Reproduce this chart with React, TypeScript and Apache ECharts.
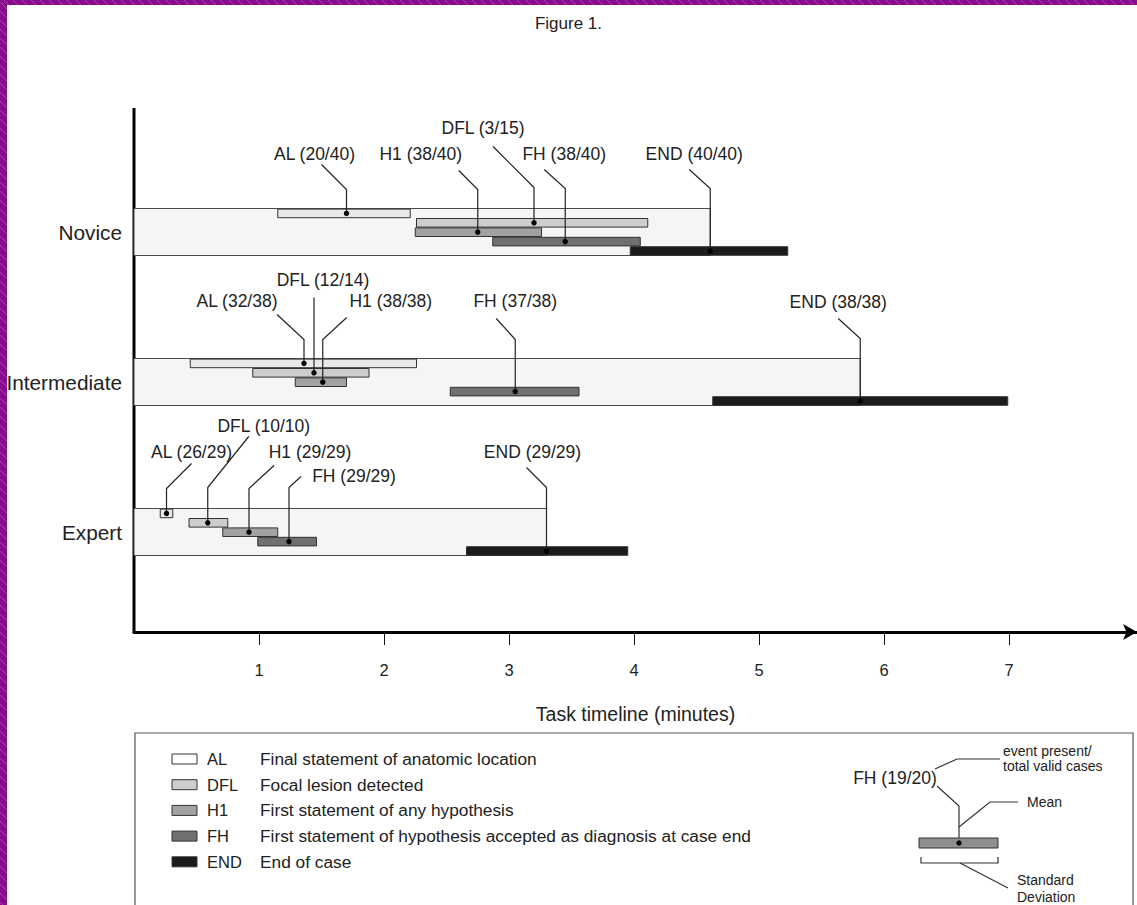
import React, { useEffect, useRef } from "react";
import * as echarts from "echarts";

const FONT = "'Liberation Sans', Arial, Helvetica, sans-serif";

// ---- data ----
const groups = ["Novice", "Intermediate", "Expert"];
const events = ["AL", "DFL", "H1", "FH", "END"];

const noviceLow = [1.15, 2.26, 2.25, 2.87, 3.97];
const noviceHigh = [2.21, 4.11, 3.26, 4.05, 5.23];
const noviceMean = [1.7, 3.2, 2.75, 3.45, 4.61];
const novicePresent = [20, 3, 38, 38, 40];
const noviceTotal = [40, 15, 40, 40, 40];

const intermediateLow = [0.45, 0.95, 1.29, 2.53, 4.63];
const intermediateHigh = [2.26, 1.88, 1.7, 3.56, 6.99];
const intermediateMean = [1.36, 1.44, 1.51, 3.05, 5.81];
const intermediatePresent = [32, 12, 38, 37, 38];
const intermediateTotal = [38, 14, 38, 38, 38];

const expertLow = [0.21, 0.44, 0.71, 0.99, 2.66];
const expertHigh = [0.31, 0.75, 1.15, 1.46, 3.95];
const expertMean = [0.26, 0.59, 0.92, 1.24, 3.3];
const expertPresent = [26, 10, 29, 29, 29];
const expertTotal = [29, 10, 29, 29, 29];

const tickValues = [1, 2, 3, 4, 5, 6, 7];

const legendCodes = ["AL", "DFL", "H1", "FH", "END"];
const legendTexts = [
  "Final statement of anatomic location",
  "Focal lesion detected",
  "First statement of any hypothesis",
  "First statement of hypothesis accepted as diagnosis at case end",
  "End of case",
];

// ---- styling / layout ----
const barColors = ["#e9e9e9", "#cdcdcd", "#a2a2a2", "#707070", "#1b1b1b"];
const legendColors = ["#ffffff", "#cdcdcd", "#a2a2a2", "#707070", "#1b1b1b"];
const BAND_FRAC = 47 / 150;
const PURPLE = "#8a0c8e";
const STRIPE = "#b350b6";

// label offsets (px) relative to mean x / band top:
// [labelDx, labelDy, diagStartDx, diagStartDy, elbowDy]
const leaderLayout = [
  [
    [-32, -55, -25, -44, -19],
    [-51, -81, -41, -62, -21],
    [-57, -55, -19, -38, -19],
    [-1, -55, -21, -39, -20],
    [-16, -55, -21, -39, -20],
  ],
  [
    [-67, -58, -27, -44, -19],
    [9, -79, 0, -61, -20],
    [68, -58, 24, -41, -19],
    [0, -58, -19, -40, -19],
    [-22, -57, -22, -40, -20],
  ],
  [
    [25, -57, 25, -45, -20],
    [56, -83, 41, -72, -21],
    [61, -57, 25, -43, -20],
    [65, -33, 12, -32, -21],
    [-14, -57, -20, -41, -21],
  ],
];

const groupData = [
  [noviceLow, noviceHigh, noviceMean, novicePresent, noviceTotal],
  [intermediateLow, intermediateHigh, intermediateMean, intermediatePresent, intermediateTotal],
  [expertLow, expertHigh, expertMean, expertPresent, expertTotal],
];

const bandData = groupData.map((g, gi) => [0, g[2][4], gi]);
const eventData: number[][] = [];
groupData.forEach((g, gi) => {
  events.forEach((_, ei) => {
    eventData.push([g[0][ei], g[1][ei], g[2][ei], gi, ei, g[3][ei], g[4][ei]]);
  });
});

function bandGeom(api: any, gi: number) {
  const c = api.coord([0, gi]);
  const catH = api.size([0, 1])[1];
  const bandH = catH * BAND_FRAC;
  return { top: c[1] - bandH / 2, h: bandH };
}

function borderStripes() {
  const out: any[] = [];
  const st = { stroke: STRIPE, lineWidth: 0.8 };
  // left strip (width 7), diagonal "\" lines
  for (let y = -7; y < 905; y += 9) {
    out.push({ type: "line", silent: true, shape: { x1: 0, y1: y, x2: 7, y2: y + 7 }, style: st });
  }
  // top strip (height 5)
  for (let x = -5; x < 1137; x += 9) {
    out.push({ type: "line", silent: true, shape: { x1: x, y1: 0, x2: x + 5, y2: 5 }, style: st });
  }
  return out;
}

export default function App() {
  const ref = useRef<HTMLDivElement>(null);
  useEffect(() => {
    if (!ref.current) return;
    const chart = echarts.init(ref.current, undefined, { renderer: "svg" });

    const legendRows = legendCodes
      .map((code, i) => {
        const y = 759 + i * 25.7;
        return [
          {
            type: "rect",
            shape: { x: 172, y: y - 5, width: 25, height: 10 },
            style: { fill: legendColors[i], stroke: "#333", lineWidth: 1 },
          },
          {
            type: "text",
            style: { text: code, x: 207, y, verticalAlign: "middle", fontSize: 16.5, fontFamily: FONT, fill: "#222" },
          },
          {
            type: "text",
            style: { text: legendTexts[i], x: 260, y, verticalAlign: "middle", fontSize: 17.3, fontFamily: FONT, fill: "#222" },
          },
        ];
      })
      .flat();

    const small = { fontSize: 14, fontFamily: FONT, fill: "#222", verticalAlign: "middle" };
    const ln = { stroke: "#333", lineWidth: 1.2, fill: "none" };

    const option: any = {
      animation: false,
      backgroundColor: "#ffffff",
      title: {
        text: "Figure 1.",
        left: "center",
        top: 10,
        textStyle: { fontSize: 17, fontWeight: "normal", color: "#222", fontFamily: FONT },
      },
      grid: { left: 134, right: 0, top: 157, height: 450 },
      xAxis: {
        type: "value",
        min: 0,
        max: 8.024,
        offset: 25,
        splitLine: { show: false },
        axisLine: {
          show: true,
          symbol: ["none", "arrow"],
          symbolSize: [12, 14],
          lineStyle: { color: "#000", width: 3 },
        },
        axisTick: { show: true, customValues: tickValues, length: 13, lineStyle: { color: "#111", width: 1 } },
        axisLabel: { customValues: tickValues, margin: 29, fontSize: 16.5, color: "#222", fontFamily: FONT },
        name: "Task timeline (minutes)",
        nameLocation: "middle",
        nameGap: 72,
        nameTextStyle: { fontSize: 19.5, color: "#222", fontFamily: FONT },
      },
      yAxis: {
        type: "category",
        inverse: true,
        data: groups,
        axisLine: { show: false },
        axisTick: { show: false },
        splitLine: { show: false },
        axisLabel: { fontSize: 20.8, color: "#222", margin: 12, fontFamily: FONT },
      },
      series: [
        {
          type: "custom",
          z: 1,
          clip: false,
          data: bandData,
          encode: { x: [0, 1], y: 2 },
          renderItem: (params: any, api: any) => {
            const gi = api.value(2);
            const b = bandGeom(api, gi);
            const x0 = api.coord([api.value(0), gi])[0];
            const x1 = api.coord([api.value(1), gi])[0];
            return {
              type: "rect",
              shape: { x: x0, y: b.top, width: x1 - x0, height: b.h },
              style: { fill: "#f5f5f6", stroke: "#4a4a4a", lineWidth: 1 },
            };
          },
        },
        {
          type: "custom",
          z: 2,
          clip: false,
          data: eventData,
          encode: { x: [0, 1, 2], y: 3 },
          renderItem: (params: any, api: any) => {
            const gi = api.value(3);
            const ei = api.value(4);
            const b = bandGeom(api, gi);
            const rowH = b.h / 5;
            const x0 = api.coord([api.value(0), gi])[0];
            const x1 = api.coord([api.value(1), gi])[0];
            const y = b.top + ei * rowH + 0.6;
            return {
              type: "rect",
              shape: { x: x0, y, width: x1 - x0, height: rowH - 0.8 },
              style: { fill: barColors[ei], stroke: "#333", lineWidth: 1 },
            };
          },
        },
        {
          type: "custom",
          z: 3,
          clip: false,
          data: eventData,
          encode: { x: [0, 1, 2], y: 3 },
          renderItem: (params: any, api: any) => {
            const gi = api.value(3);
            const ei = api.value(4);
            const b = bandGeom(api, gi);
            const rowH = b.h / 5;
            const mx = api.coord([api.value(2), gi])[0];
            const dotY = b.top + ei * rowH + 0.6 + (rowH - 0.8) / 2;
            const L = leaderLayout[gi][ei];
            const label = `${events[ei]} (${api.value(5)}/${api.value(6)})`;
            return {
              type: "group",
              children: [
                {
                  type: "polyline",
                  shape: {
                    points: [
                      [mx + L[2], b.top + L[3]],
                      [mx, b.top + L[4]],
                      [mx, dotY],
                    ],
                  },
                  style: { stroke: "#222", lineWidth: 1.2, fill: "none" },
                },
                {
                  type: "circle",
                  shape: { cx: mx, cy: dotY, r: 2.7 },
                  style: { fill: "#000" },
                },
                {
                  type: "text",
                  style: {
                    text: label,
                    x: mx + L[0],
                    y: b.top + L[1],
                    align: "center",
                    verticalAlign: "middle",
                    fontSize: 17.5,
                    fontFamily: FONT,
                    fill: "#222",
                  },
                },
              ],
            };
          },
        },
      ],
      graphic: [
        { type: "rect", shape: { x: 0, y: 0, width: 7, height: 905 }, style: { fill: PURPLE } },
        { type: "rect", shape: { x: 0, y: 0, width: 1137, height: 5 }, style: { fill: PURPLE } },
        ...borderStripes(),
        { type: "line", shape: { x1: 134, y1: 108, x2: 134, y2: 633 }, style: { stroke: "#000", lineWidth: 3 } },
        { type: "rect", shape: { x: 135, y: 733, width: 998, height: 200 }, style: { fill: "none", stroke: "#555", lineWidth: 1.2 } },
        ...legendRows,
        { type: "text", style: { ...small, text: "event present/", x: 1003, y: 751 } },
        { type: "text", style: { ...small, text: "total valid cases", x: 1003, y: 766 } },
        { type: "polyline", shape: { points: [[935, 769], [957, 759], [1000, 759]] }, style: ln },
        {
          type: "text",
          style: { text: "FH (19/20)", x: 895, y: 778, align: "center", verticalAlign: "middle", fontSize: 17.5, fontFamily: FONT, fill: "#222" },
        },
        { type: "polyline", shape: { points: [[937, 786], [959, 806], [959, 843]] }, style: ln },
        { type: "polyline", shape: { points: [[959, 827], [990, 802], [1018, 802]] }, style: ln },
        { type: "text", style: { ...small, text: "Mean", x: 1027, y: 802 } },
        { type: "rect", shape: { x: 919, y: 838, width: 79, height: 10 }, style: { fill: "#8f8f8f", stroke: "#333", lineWidth: 1 } },
        { type: "circle", shape: { cx: 959, cy: 843, r: 2.7 }, style: { fill: "#000" } },
        { type: "polyline", shape: { points: [[921, 857], [921, 863], [998, 863], [998, 857]] }, style: ln },
        { type: "line", shape: { x1: 960, y1: 863, x2: 1008, y2: 888 }, style: { stroke: "#333", lineWidth: 1.2 } },
        { type: "text", style: { ...small, text: "Standard", x: 1017, y: 880 } },
        { type: "text", style: { ...small, text: "Deviation", x: 1017, y: 897 } },
      ],
    };

    chart.setOption(option);
    return () => chart.dispose();
  }, []);

  return (
    <div
      ref={ref}
      style={{ position: "fixed", left: 0, top: 0, width: 1137, height: 905, background: "#fff" }}
    />
  );
}
